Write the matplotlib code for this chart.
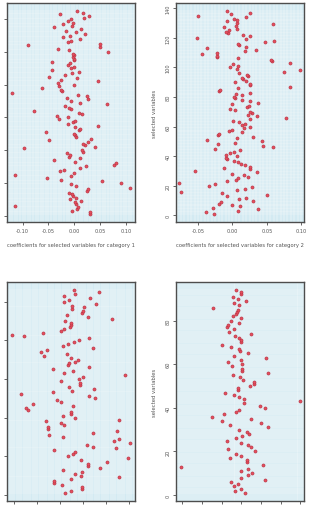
import numpy as np
import matplotlib
matplotlib.use("Agg")
import matplotlib.pyplot as plt

# coefficients per selected variable, ordered from variable 1 upwards
coef_cat1 = [
    271, 271, 215, 230, 233, 46, 227, 226, 243, 210,
    228, 219, 215, 206, 262, 265, 390, 229, 213, 362,
    305, 183, 140, 214, 46, 221, 180, 191, 240, 258,
    343, 348, 224, 161, 240, 207, 210, 202, 250, 246,
    71, 285, 254, 248, 263, 148, 272, 229, 226, 222,
    138, 237, 240, 224, 294, 205, 219, 226, 177, 203,
    170, 245, 237, 102, 213, 206, 196, 320, 239, 213,
    264, 202, 261, 235, 35, 187, 183, 125, 177, 222,
    174, 294, 183, 230, 148, 194, 215, 238, 156, 214,
    222, 203, 209, 157, 223, 222, 220, 222, 219, 324,
    207, 174, 299, 85, 301, 204, 212, 239, 188, 209,
    256, 227, 197, 243, 161, 215, 190, 218, 203, 212,
    252, 268, 179, 248, 232,
]
coef_cat1 = [(v - 223) / 1550 for v in coef_cat1]

coef_cat2 = [
    176, 151, 247, 307, 173, 253, 229, 190, 196, 294,
    251, 271, 214, 336, 201, 77, 244, 270, 290, 160,
    179, 71, 216, 243, 249, 278, 265, 230, 306, 119,
    284, 205, 284, 268, 258, 247, 237, 216, 211, 244,
    212, 224, 237, 254, 179, 352, 322, 187, 240, 320,
    156, 244, 294, 189, 192, 260, 220, 230, 265, 285,
    259, 270, 250, 233, 285, 393, 306, 278, 289, 285,
    238, 224, 274, 282, 231, 309, 284, 259, 239, 235,
    260, 242, 284, 191, 195, 248, 403, 283, 283, 238,
    271, 263, 261, 277, 276, 251, 387, 434, 244, 225,
    247, 233, 405, 349, 347, 247, 186, 185, 139, 186,
    268, 302, 156, 271, 250, 248, 330, 355, 273, 126,
    284, 264, 218, 213, 222, 245, 207, 241, 354, 244,
    214, 246, 236, 272, 127, 228, 284, 216,
]
coef_cat2 = [(v - 231) / 2060 for v in coef_cat2]

coef_cat3 = [
    194, 212, 246, 245, 186, 160, 160, 211, 356, 243,
    225, 245, 187, 301, 264, 264, 321, 242, 383, 203,
    219, 223, 160, 347, 279, 260, 390, 342, 357, 187,
    145, 279, 352, 144, 143, 191, 182, 136, 357, 225,
    188, 213, 213, 84, 78, 217, 99, 183, 171, 284,
    266, 62, 157, 214, 281, 206, 239, 238, 182, 236,
    249, 375, 190, 218, 157, 266, 204, 205, 224, 234,
    211, 132, 199, 123, 140, 279, 189, 203, 220, 235,
    266, 72, 35, 129, 182, 190, 208, 213, 213, 193,
    336, 264, 200, 245, 249, 216, 251, 216, 288, 190,
    207, 270, 190, 224, 298, 220,
]
coef_cat3 = [(v - 180) / 1380 for v in coef_cat3]

coef_cat4 = [
    272, 241, 258, 238, 250, 230, 332, 259, 279, 292,
    260, 280, 79, 325, 278, 277, 227, 258, 245, 300,
    220, 289, 281, 260, 218, 245, 262, 283, 277, 254,
    341, 227, 318, 203, 290, 172, 207, 245, 253, 331,
    316, 267, 436, 269, 253, 238, 211, 250, 250, 286,
    298, 298, 264, 255, 234, 341, 262, 262, 232, 262,
    219, 259, 333, 238, 279, 256, 253, 230, 201, 258,
    258, 253, 242, 289, 223, 237, 217, 220, 253, 228,
    259, 234, 243, 247, 251, 176, 253, 238, 273, 250,
    236, 258, 258, 243,
]
coef_cat4 = [(v - 260) / 1180 for v in coef_cat4]

W, H = 309, 510
fig = plt.figure(figsize=(W / 100, H / 100), dpi=100)

bg = "#d3eaf2"
edge = "#4d4d4d"
txt = "#555555"


def panel(px, data, xlim, xticks, yticks, xlab=None, ylab=False, ylabs=False):
    l, r, t, b = px
    ax = fig.add_axes([l / W, (H - b) / H, (r - l) / W, (b - t) / H])
    n = len(data)
    y = np.arange(1, n + 1)
    ax.set_facecolor(bg)
    ax.set_xlim(*xlim)
    ax.set_ylim(1 - 0.04 * (n - 1), n + 0.04 * (n - 1))
    for v in np.arange(-0.2, 0.2, 0.005):
        ax.axvline(v, color="white", lw=0.35, alpha=0.85, zorder=1)
    for v in y:
        ax.axhline(v, color="white", lw=0.3, alpha=0.8, zorder=1)
    ax.scatter(data, y, s=5, c="#e4505f", edgecolors="#b52f40",
               linewidths=0.4, zorder=3)
    ax.set_xticks(xticks)
    ax.set_yticks(yticks)
    ax.tick_params(length=2.5, width=0.6, color=edge, labelsize=3.6,
                   labelcolor=txt, pad=1.5)
    if xlab:
        ax.set_xticklabels(["%.2f" % v for v in xticks])
        ax.set_xlabel(xlab, fontsize=3.8, color=txt, labelpad=7)
    else:
        ax.set_xticklabels([])
    if ylabs:
        ax.set_yticklabels([str(v) for v in yticks], rotation=90,
                           va="center")
    else:
        ax.set_yticklabels([])
    if ylab:
        ax.set_ylabel("selected variables", fontsize=3.8, color=txt,
                      labelpad=6)
    for s in ax.spines.values():
        s.set_color(edge)
        s.set_linewidth(1.0)
    return ax


panel((7, 135, 4, 223), coef_cat1, (-0.130, 0.117),
      [-0.10, -0.05, 0.0, 0.05, 0.10], range(0, 121, 20),
      xlab="coefficients for selected variables for category 1")
panel((176, 303.5, 4, 223), coef_cat2, (-0.082, 0.1034),
      [-0.05, 0.0, 0.05, 0.10], range(0, 141, 20),
      xlab="coefficients for selected variables for category 2",
      ylab=True, ylabs=True)
panel((7, 135, 283, 502), coef_cat3, (-0.116, 0.163),
      [-0.10, -0.05, 0.0, 0.05, 0.10, 0.15], range(0, 101, 20))
panel((176, 304, 283, 502), coef_cat4, (-0.166, 0.159),
      [-0.15, -0.10, -0.05, 0.0, 0.05, 0.10, 0.15], range(0, 81, 20),
      ylab=True, ylabs=True)

fig.savefig("out.png", dpi=100)
